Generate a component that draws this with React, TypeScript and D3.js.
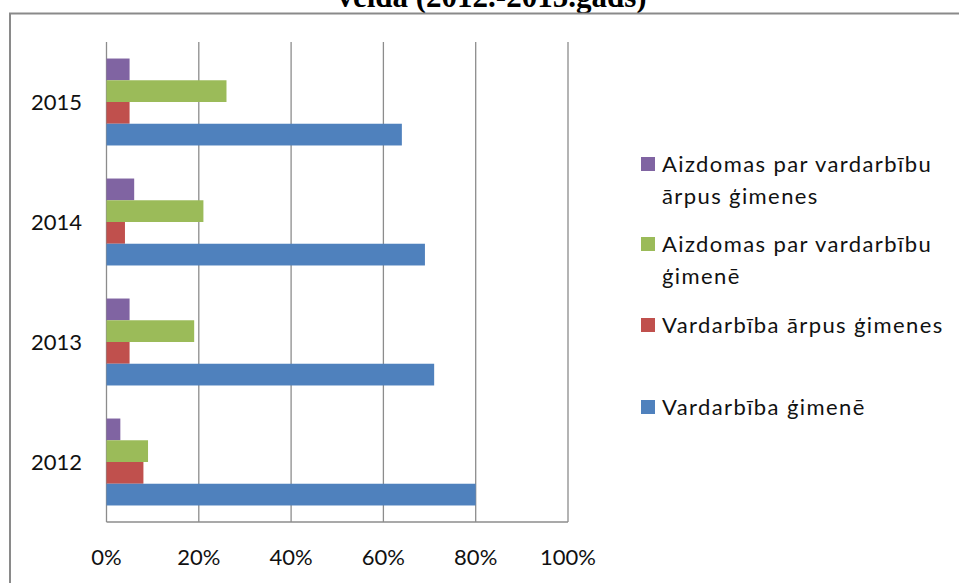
import React from "react";
import * as d3 from "d3";

// years, top to bottom as drawn
const years = ["2015", "2014", "2013", "2012"];

// series, top to bottom inside each year group
const seriesNames = [
  ["Aizdomas par vardarbību", "ārpus ģimenes"],
  ["Aizdomas par vardarbību", "ģimenē"],
  ["Vardarbība ārpus ģimenes"],
  ["Vardarbība ģimenē"],
];
const seriesColors = ["#8064A2", "#9BBB59", "#C0504D", "#4F81BD"];

// shares per year (2015, 2014, 2013, 2012)
const suspectOutside = [0.05, 0.06, 0.05, 0.03];
const suspectFamily = [0.26, 0.21, 0.19, 0.09];
const violenceOutside = [0.05, 0.04, 0.05, 0.08];
const violenceFamily = [0.64, 0.69, 0.71, 0.80];

const seriesValues = [suspectOutside, suspectFamily, violenceOutside, violenceFamily];
const xTicks = [0, 0.2, 0.4, 0.6, 0.8, 1];

const W = 959;
const H = 583;
const FONT = "Lato, 'Open Sans', sans-serif";

export default function App() {
  const x = d3.scaleLinear().domain([0, 1]).range([106.5, 568]);
  const y = d3.scaleBand().domain(years).range([42, 522]);
  const inner = d3
    .scaleBand<number>()
    .domain(d3.range(seriesValues.length))
    .range([0, y.bandwidth()])
    .paddingOuter(0.76);

  const legendRows = [172, 252, 333, 415];

  return (
    <svg
      width={W}
      height={H}
      style={{ position: "absolute", left: 0, top: 0, background: "#fff" }}
    >
      {/* title, cut off by the top edge as in the source */}
      <text
        x={492}
        y={7}
        textAnchor="middle"
        fontFamily="'Liberation Serif', 'Times New Roman', serif"
        fontWeight="bold"
        fontSize={31}
      >
        veida (2012.-2015.gads)
      </text>

      {/* outer frame */}
      <path d={`M10,${H} V13.5 H${W}`} fill="none" stroke="#8a8a8a" strokeWidth={2} />

      {/* gridlines */}
      {xTicks.map((t) => (
        <line
          key={t}
          x1={x(t)}
          x2={x(t)}
          y1={42}
          y2={522}
          stroke="#8c8c8c"
          strokeWidth={1.3}
        />
      ))}
      <line x1={x(0)} x2={x(1)} y1={522} y2={522} stroke="#8c8c8c" strokeWidth={1.3} />

      {/* bars */}
      {years.map((yr, i) => (
        <g key={yr}>
          {seriesValues.map((vals, s) => (
            <rect
              key={s}
              x={x(0)}
              y={(y(yr) as number) + (inner(s) as number)}
              width={x(vals[i]) - x(0)}
              height={inner.bandwidth()}
              fill={seriesColors[s]}
            />
          ))}
        </g>
      ))}

      {/* y labels */}
      {years.map((yr) => (
        <text
          key={yr}
          x={82}
          y={(y(yr) as number) + y.bandwidth() / 2 + 8}
          textAnchor="end"
          fontFamily={FONT}
          fontSize={22}
          fill="#111"
        >
          {yr}
        </text>
      ))}

      {/* x labels */}
      {xTicks.map((t) => (
        <text
          key={t}
          x={x(t)}
          y={565}
          textAnchor="middle"
          fontFamily={FONT}
          fontSize={22}
          fill="#111"
        >
          {d3.format(".0%")(t)}
        </text>
      ))}

      {/* legend */}
      {seriesNames.map((lines, s) => (
        <g key={s}>
          <rect
            x={641}
            y={legendRows[s] - 15}
            width={14}
            height={14}
            fill={seriesColors[s]}
          />
          {lines.map((ln, j) => (
            <text
              key={j}
              x={662}
              y={legendRows[s] + j * 32}
              fontFamily={FONT}
              fontSize={22}
              letterSpacing={1.4}
              fill="#111"
            >
              {ln}
            </text>
          ))}
        </g>
      ))}
    </svg>
  );
}
